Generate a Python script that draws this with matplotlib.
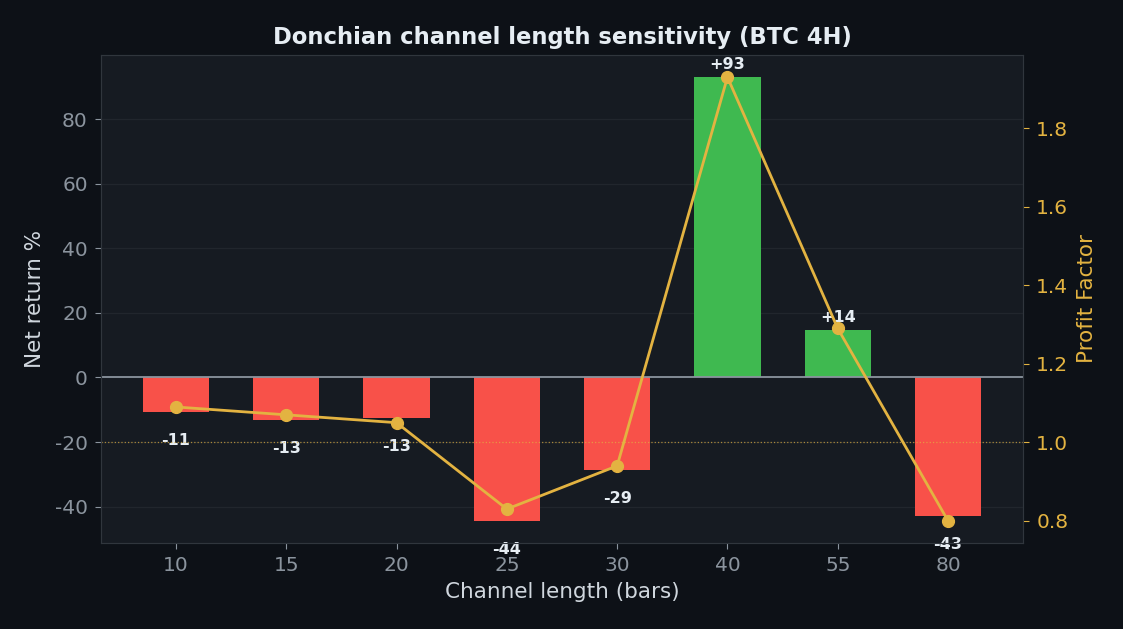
import matplotlib
matplotlib.use("Agg")
import matplotlib.pyplot as plt
import numpy as np

plt.rcParams["axes.unicode_minus"] = False

lengths = ["10", "15", "20", "25", "30", "40", "55", "80"]
net_return = [-10.8, -13.2, -12.6, -44.4, -28.7, 93.0, 14.6, -43.0]
return_labels = ["-11", "-13", "-13", "-44", "-29", "+93", "+14", "-43"]
profit_factor = [1.09, 1.07, 1.05, 0.83, 0.94, 1.93, 1.29, 0.80]

BG = "#0d1117"
AX = "#161b22"
SPINE = "#30363d"
GRID = "#21262d"
TICK = "#8b949e"
TEXT = "#e6edf3"
LABEL = "#d0d7de"
RED = "#f85149"
GREEN = "#3fb950"
GOLD = "#e3b341"

fig = plt.figure(figsize=(11.23, 6.29), dpi=100, facecolor=BG)
ax = fig.add_axes([0.0899, 0.1367, 0.8211, 0.7759])
ax.set_facecolor(AX)

x = np.arange(len(lengths))
colors = [GREEN if v >= 0 else RED for v in net_return]
ax.bar(x, net_return, width=0.6, color=colors, zorder=2)
ax.axhline(0, color=TICK, lw=1.3, zorder=3)

for xi, v, lab in zip(x, net_return, return_labels):
    if v >= 0:
        ax.text(xi, v + 1.5, lab, ha="center", va="bottom", color=TEXT,
                fontsize=11.5, fontweight="bold", zorder=6)
    else:
        ax.text(xi, v - 6.5, lab, ha="center", va="top", color=TEXT,
                fontsize=11.5, fontweight="bold", zorder=6)

ax.set_xticks(x)
ax.set_xticklabels(lengths)
ax.set_yticks([-40, -20, 0, 20, 40, 60, 80])
ax.grid(axis="y", color=GRID, lw=0.9, zorder=0)
ax.set_axisbelow(True)
ax.tick_params(colors=TICK, labelsize=14.5, length=4.5, pad=5)
for s in ax.spines.values():
    s.set_color(SPINE)
ax.set_xlabel("Channel length (bars)", color=LABEL, fontsize=15.5, labelpad=5)
ax.set_ylabel("Net return %", color=LABEL, fontsize=15.5, labelpad=7.3)
ax.set_title("Donchian channel length sensitivity (BTC 4H)", color=TEXT,
             fontsize=16.3, fontweight="bold", pad=8)

ax2 = ax.twinx()
ax2.plot(x, profit_factor, color=GOLD, lw=2.0, marker="o", markersize=8.5, zorder=5)
ax2.axhline(1.0, color=GOLD, lw=0.9, ls=":", alpha=0.7, zorder=1)
ax2.set_yticks([0.8, 1.0, 1.2, 1.4, 1.6, 1.8])
ax2.tick_params(axis="y", colors=GOLD, labelcolor=GOLD, labelsize=14.5, length=4.5, pad=5)
ax2.set_ylabel("Profit Factor", color=GOLD, fontsize=15.5, labelpad=6)
for s in ax2.spines.values():
    s.set_color(SPINE)

fig.savefig("out.png", dpi=100, facecolor=BG)
